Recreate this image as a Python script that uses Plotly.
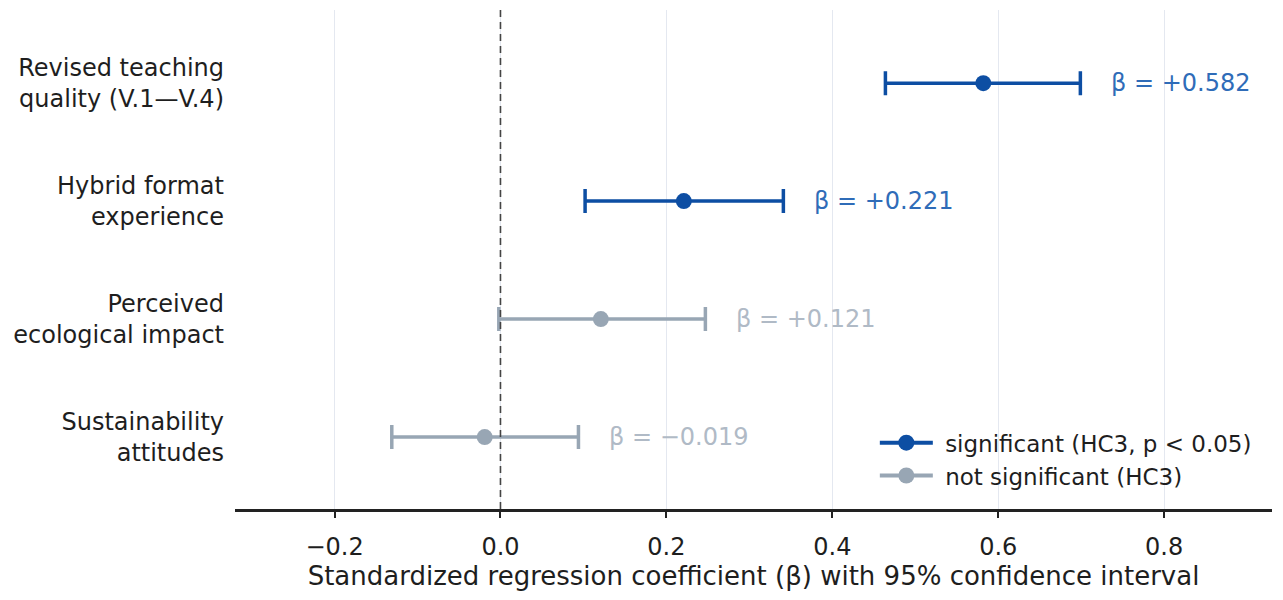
import plotly.graph_objects as go

# coefficients
predictors = ["Revised teaching<br>quality (V.1\u2014V.4)", "Hybrid format<br>experience",
              "Perceived<br>ecological impact", "Sustainability<br>attitudes"]
beta = [0.582, 0.221, 0.121, -0.019]
ci_low = [0.464, 0.102, -0.002, -0.131]
ci_high = [0.699, 0.341, 0.247, 0.094]
significant = [True, True, False, False]

SIG = "#0d4ea3"
SIG_TXT = "#2f6cb8"
NS = "#98a6b4"
NS_TXT = "#b0bac6"
FONT = "DejaVu Sans"

ypos = list(range(len(predictors)))

fig = go.Figure()

for i in ypos:
    col = SIG if significant[i] else NS
    fig.add_trace(go.Scatter(
        x=[beta[i]], y=[i], mode="markers",
        marker=dict(color=col, size=16),
        error_x=dict(type="data", symmetric=False,
                     array=[ci_high[i] - beta[i]], arrayminus=[beta[i] - ci_low[i]],
                     color=col, thickness=3.5, width=12),
        showlegend=False, hoverinfo="skip"))
    sign = "+" if beta[i] >= 0 else "\u2212"
    fig.add_annotation(x=ci_high[i] + 0.035, y=i, xanchor="left", showarrow=False,
                       text=f"\u03b2 = {sign}{abs(beta[i]):.3f}",
                       font=dict(family=FONT, size=24,
                                 color=SIG_TXT if significant[i] else NS_TXT))

# legend entries
fig.add_trace(go.Scatter(x=[None], y=[None], mode="lines+markers",
                         name="\u00a0significant (HC3, p < 0.05)",
                         line=dict(color=SIG, width=4), marker=dict(color=SIG, size=16)))
fig.add_trace(go.Scatter(x=[None], y=[None], mode="lines+markers",
                         name="\u00a0not significant (HC3)",
                         line=dict(color=NS, width=4), marker=dict(color=NS, size=16)))

fig.add_vline(x=0, line=dict(color="#444444", width=1.6, dash="7px,5px"))

fig.update_layout(
    width=1275, height=592,
    margin=dict(l=227, r=11, t=2, b=91),
    plot_bgcolor="white", paper_bgcolor="white",
    font=dict(family=FONT, size=24, color="#1e1e1e"),
    legend=dict(x=0.617, y=0.176, xanchor="left", yanchor="top", bgcolor="rgba(0,0,0,0)",
                font=dict(size=23), itemwidth=53, tracegroupgap=0),
    xaxis=dict(range=[-0.32, 0.93], tickvals=[-0.2, 0, 0.2, 0.4, 0.6, 0.8],
               ticktext=["\u22120.2", "0.0", "0.2", "0.4", "0.6", "0.8"],
               showgrid=True, gridcolor="#e4e8f0", gridwidth=1, zeroline=False,
               showline=True, linecolor="#222222", linewidth=2.5,
               ticks="outside", ticklen=6, tickwidth=1.5, tickcolor="#222222",
               ticklabelstandoff=8,
               title=dict(text="Standardized regression coefficient (\u03b2) with 95% confidence interval",
                          font=dict(size=26), standoff=6)),
    yaxis=dict(range=[3.61, -0.62], tickvals=ypos, ticktext=predictors,
               showgrid=False, zeroline=False, showline=False, ticks="",
               ticklabelstandoff=10),
)

fig.write_html("out.html")
